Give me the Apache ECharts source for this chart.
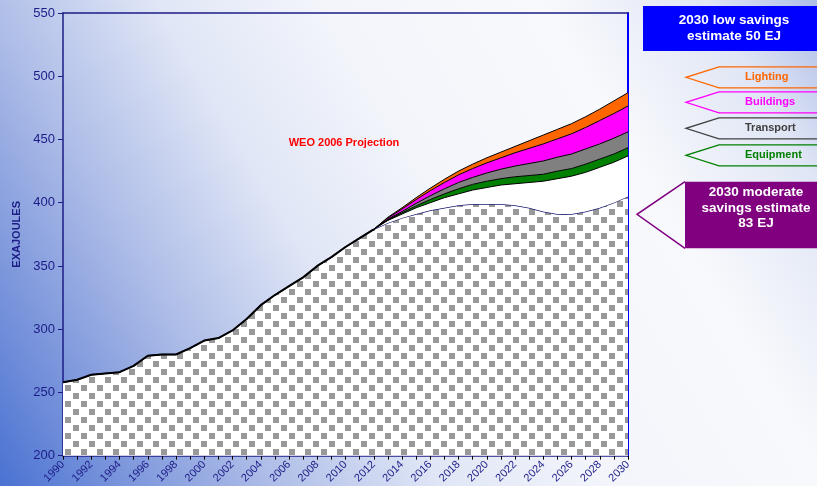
<!DOCTYPE html>
<html>
<head>
<meta charset="utf-8">
<script src="https://cdn.jsdelivr.net/npm/echarts@6/dist/echarts.min.js"></script>
<style>
  html, body { margin: 0; padding: 0; }
  #chart { width: 817px; height: 486px; }
</style>
</head>
<body>
<div id="chart"></div>
<script>
// World energy demand, exajoules
const years = ['1990','1991','1992','1993','1994','1995','1996','1997','1998','1999',
  '2000','2001','2002','2003','2004','2005','2006','2007','2008','2009',
  '2010','2011','2012','2013','2014','2015','2016','2017','2018','2019',
  '2020','2021','2022','2023','2024','2025','2026','2027','2028','2029','2030'];

// Demand after moderate savings (history up to 2012, then projected)
const moderateDemand = [258, 260, 264, 265, 266, 271, 279, 280, 280, 285,
  291, 293, 299, 308, 319, 327, 334, 341, 350, 357,
  365, 372, 379, 384, 388, 391, 394, 396, 398, 399,
  399, 399, 398, 396, 393, 391, 391, 393, 396, 400, 405];

// Index of the first projected year (2012)
const projectionStart = 22;

// Layers stacked above the moderate case, 2012-2030
const lowSavingsGap = [0, 2, 3, 5, 6, 8, 9, 11, 13, 15, 17, 20, 24, 28, 30, 31, 32, 32, 32];
const equipment     = [0, 0.5, 1, 1.5, 2.5, 3, 4, 4.5, 5, 5, 5.5, 5.5, 5.5, 6, 6, 6.5, 6.5, 6.5, 6.5];
const transport     = [0, 0.5, 1, 2, 3, 4, 5, 5.5, 6.5, 7.5, 8.5, 9.5, 10.5, 11, 11.5, 12, 12, 12.5, 12.5];
const buildings     = [0, 1, 2, 3, 4, 5, 6, 7, 8, 9, 10.5, 12, 13.5, 14.5, 16, 17, 18.5, 19.5, 20.5];
const lighting      = [0, 0.5, 1, 1.5, 2, 2.5, 3, 3.5, 4, 4.5, 5, 6, 7, 7.5, 8, 8.5, 9, 10, 10.5];

const yTicks = { min: 200, max: 550, interval: 50 };

const NAVY = '#1c1c86';
const FONT = 'Liberation Sans, Arial, sans-serif';

function padProjection(arr) {
  const out = [];
  for (let i = 0; i < projectionStart; i++) out.push(null);
  return out.concat(arr);
}

function historyOnly(arr) {
  return arr.map((v, i) => (i <= projectionStart ? v : null));
}

// Spaced checker pattern used for the moderate-demand area
const TILE = 16;
function checkerPattern() {
  const c = document.createElement('canvas');
  c.width = TILE; c.height = TILE;
  const g = c.getContext('2d');
  g.fillStyle = '#ffffff';
  g.fillRect(0, 0, TILE, TILE);
  g.fillStyle = '#999999';
  g.fillRect(1, 1, 6, 6);
  g.fillRect(9, 9, 6, 6);
  return c;
}

const chart = echarts.init(document.getElementById('chart'), null, { renderer: 'canvas' });

function band(name, data, color) {
  return {
    name: name,
    type: 'line',
    stack: 'demand',
    data: padProjection(data),
    symbol: 'none',
    lineStyle: { color: '#000000', width: 1 },
    areaStyle: { color: color, opacity: 1 },
    z: 3
  };
}

function arrowTag(y, color, label) {
  const top = y - 10.5, bot = y + 10.5;
  return [
    {
      type: 'polyline',
      shape: { points: [[830, top], [719, top], [686, y], [719, bot], [830, bot]] },
      style: { stroke: color, lineWidth: 1.3, fill: null }
    },
    {
      type: 'text',
      x: 745, y: y,
      style: { text: label, fill: color, font: 'bold 11px ' + FONT, verticalAlign: 'middle' }
    }
  ];
}

const option = {
  backgroundColor: new echarts.graphic.LinearGradient(0, 1, 1, 0, [
    { offset: 0, color: '#4a72d2' },
    { offset: 0.12, color: '#7d97dc' },
    { offset: 0.25, color: '#afbee8' },
    { offset: 0.4, color: '#e0e6f6' },
    { offset: 0.55, color: '#f3f5fb' },
    { offset: 0.75, color: '#f8f9fc' },
    { offset: 0.9, color: '#e0e6f5' },
    { offset: 1, color: '#aebde7' }
  ]),
  animation: false,
  grid: { left: 63, right: 189, top: 13, bottom: 29, containLabel: false },
  xAxis: [
    {
      type: 'category',
      data: years,
      boundaryGap: false,
      axisLine: { lineStyle: { color: NAVY, width: 1.5 } },
      axisTick: { show: true, interval: 0, length: 4, lineStyle: { color: '#000000' } },
      axisLabel: { interval: 1, rotate: 45, color: NAVY, fontSize: 11, fontFamily: FONT, margin: 7 },
      splitLine: { show: false }
    },
    {
      type: 'category',
      data: years,
      boundaryGap: false,
      position: 'top',
      axisLine: { lineStyle: { color: NAVY, width: 1.5 } },
      axisTick: { show: false },
      axisLabel: { show: false },
      splitLine: { show: false }
    }
  ],
  yAxis: [
    {
      type: 'value',
      min: yTicks.min, max: yTicks.max, interval: yTicks.interval,
      name: 'EXAJOULES',
      nameLocation: 'middle',
      nameRotate: 90,
      nameGap: 36,
      nameTextStyle: { color: NAVY, fontWeight: 'bold', fontSize: 11, fontFamily: FONT },
      axisLine: { show: true, lineStyle: { color: NAVY, width: 1.5 } },
      axisTick: { show: true, length: 5, lineStyle: { color: NAVY } },
      axisLabel: { color: NAVY, fontSize: 13, fontFamily: FONT, margin: 8 },
      splitLine: { show: false }
    },
    {
      type: 'value',
      min: yTicks.min, max: yTicks.max, interval: yTicks.interval,
      position: 'right',
      axisLine: { show: true, lineStyle: { color: '#0000ff', width: 2 } },
      axisTick: { show: false },
      axisLabel: { show: false },
      splitLine: { show: false }
    }
  ],
  series: [
    {
      name: 'Moderate savings demand',
      type: 'line',
      stack: 'demand',
      data: moderateDemand,
      symbol: 'none',
      lineStyle: { color: '#1a1a70', width: 1.3 },
      areaStyle: {
        color: { image: checkerPattern(), repeat: 'repeat', imageWidth: TILE, imageHeight: TILE },
        opacity: 1
      },
      z: 2
    },
    band('Low savings gap', lowSavingsGap, '#ffffff'),
    band('Equipment', equipment, '#008000'),
    band('Transport', transport, '#808080'),
    band('Buildings', buildings, '#ff00ff'),
    band('Lighting', lighting, '#ff6600'),
    {
      name: 'History',
      type: 'line',
      data: historyOnly(moderateDemand),
      symbol: 'none',
      lineStyle: { color: '#000000', width: 2 },
      z: 5
    }
  ],
  graphic: [
    {
      type: 'text',
      x: 344, y: 143,
      style: { text: 'WEO 2006 Projection', fill: '#ff0000', font: 'bold 11px ' + FONT,
               align: 'center', verticalAlign: 'middle' }
    },
    {
      type: 'rect',
      shape: { x: 643, y: 6, width: 190, height: 45 },
      style: { fill: '#0000ff' }
    },
    {
      type: 'text',
      x: 734, y: 28,
      style: {
        text: '2030 low savings\nestimate 50 EJ',
        fill: '#ffffff', font: 'bold 13.5px ' + FONT,
        align: 'center', verticalAlign: 'middle', lineHeight: 16
      }
    },
    ...arrowTag(77.3, '#ff6600', 'Lighting'),
    ...arrowTag(102.3, '#ff00ff', 'Buildings'),
    ...arrowTag(128.3, '#404040', 'Transport'),
    ...arrowTag(155.3, '#008000', 'Equipment'),
    {
      type: 'polyline',
      shape: { points: [[685, 181.7], [637, 214.3], [685, 248.3]] },
      style: { stroke: '#800080', lineWidth: 1.5, fill: null }
    },
    {
      type: 'rect',
      shape: { x: 685, y: 181.7, width: 140, height: 66.6 },
      style: { fill: '#800080' }
    },
    {
      type: 'text',
      x: 756, y: 208,
      style: {
        text: '2030 moderate\nsavings estimate\n83 EJ',
        fill: '#ffffff', font: 'bold 13.5px ' + FONT,
        align: 'center', verticalAlign: 'middle', lineHeight: 15.5
      }
    }
  ]
};

chart.setOption(option);
</script>
</body>
</html>
